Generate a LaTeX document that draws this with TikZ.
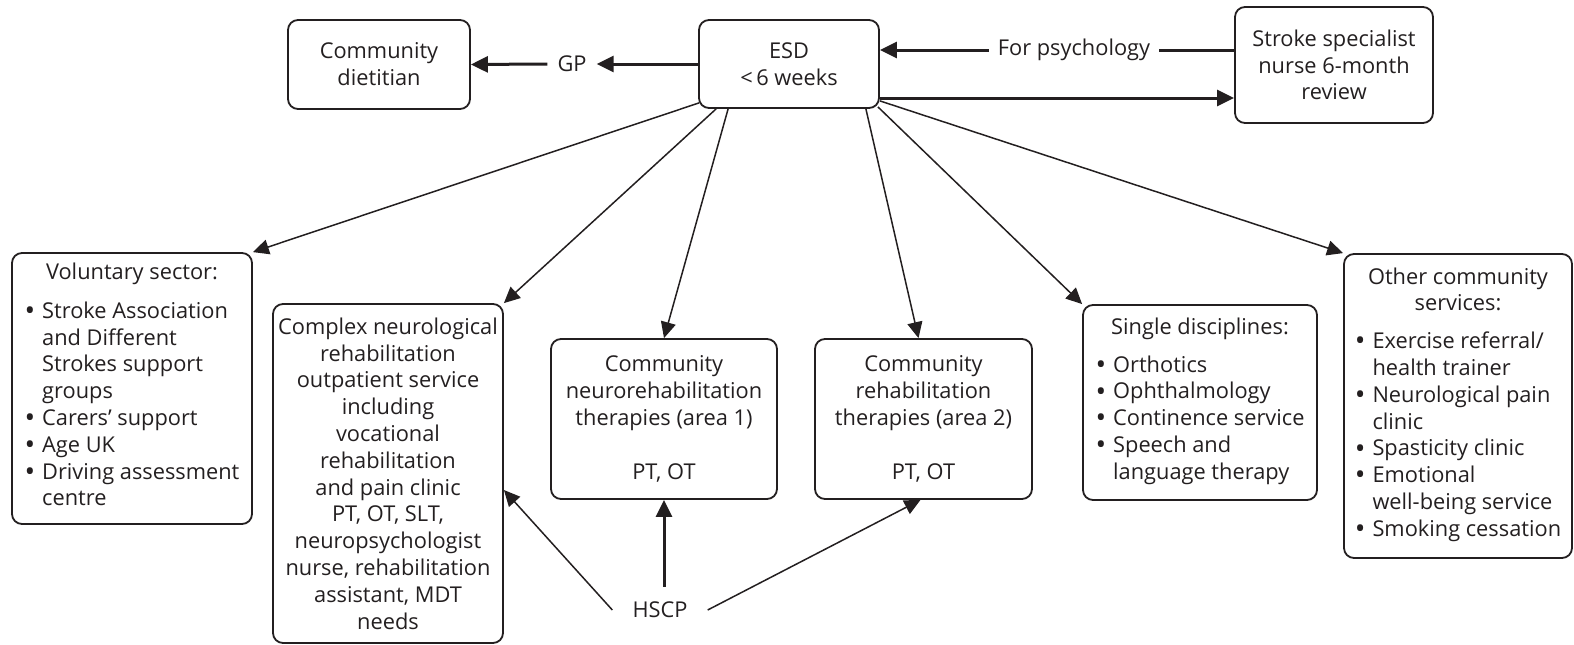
\documentclass[tikz,border=0pt]{standalone}
\usepackage{graphicx}
\usepackage{fontspec}
\setmainfont{Open Sans}
\usetikzlibrary{arrows.meta,calc}
\definecolor{ink}{RGB}{35,31,32}
% bullet list: bullet column plus text column, top-aligned
\newcommand{\blist}[1]{\begin{tabular}[t]{@{}l@{\hspace{7pt}}l@{}}#1\end{tabular}}
\newcommand{\bdot}{\raisebox{-0.1em}{\scalebox{1.3}{\textbullet}}}
\begin{document}
\begin{tikzpicture}[x=1pt,y=-1pt,
  every node/.style={font=\fontsize{21.8}{26.8}\selectfont, text=ink},
  box/.style={draw=ink, line width=1.8pt, rounded corners=10pt, align=center, inner sep=0pt},
  lbl/.style={inner xsep=10pt, inner ysep=4pt},
  linkthin/.style={draw=ink, line width=1.5pt, -{Triangle[length=16pt,width=15pt]}},
  linkthick/.style={draw=ink, line width=3pt, -{Triangle[length=17pt,width=16pt]}},
  plainthick/.style={draw=ink, line width=3pt},
  ]
\useasboundingbox (0,0) rectangle (1574,645);

% top row
\node[box, minimum width=182pt, minimum height=89pt] (diet) at (379,64.5) {Community\\dietitian};
\node[box, minimum width=180pt, minimum height=88pt] (esd) at (789,64) {ESD\\\textless\,6 weeks};
\node[box, minimum width=198pt, minimum height=116pt] (stroke) at (1334,65) {Stroke specialist\\nurse 6-month\\review};
\node[lbl] (gp) at (572,64) {GP};
\node[lbl, inner xsep=9pt] (psy) at (1074,50) {For psychology};

% lower row
\node[box, minimum width=240pt, minimum height=271pt] (vol) at (132,388.5)
  {Voluntary sector:\\[12pt]
   \blist{\bdot & Stroke Association\\ & and Different\\ & Strokes support\\ & groups\\
          \bdot & Carers’ support\\ \bdot & Age UK\\
          \bdot & Driving assessment\\ & centre}};
\node[box, minimum width=230pt, minimum height=339pt] (complex) at (388,473.5)
  {Complex neurological\\rehabilitation\\outpatient service\\including\\vocational\\rehabilitation\\and pain clinic\\PT, OT, SLT,\\neuropsychologist\\nurse, rehabilitation\\assistant, MDT\\needs};
\node[box, minimum width=226pt, minimum height=160pt] (area1) at (664,419)
  {Community\\neurorehabilitation\\therapies (area 1)\\[26.8pt]PT, OT};
\node[box, minimum width=217pt, minimum height=160pt] (area2) at (923.5,419)
  {Community\\rehabilitation\\therapies (area 2)\\[26.8pt]PT, OT};
\node[box, minimum width=234pt, minimum height=195pt] (single) at (1200,402.5)
  {Single disciplines:\\[11pt]
   \blist{\bdot & Orthotics\\ \bdot & Ophthalmology\\ \bdot & Continence service\\
          \bdot & Speech and\\ & language therapy}};
\node[box, minimum width=228pt, minimum height=304pt] (other) at (1458,406)
  {Other community\\services:\\[11pt]
   \blist{\bdot & Exercise referral/\\ & health trainer\\ \bdot & Neurological pain\\ & clinic\\
          \bdot & Spasticity clinic\\ \bdot & Emotional\\ & well-being service\\
          \bdot & Smoking cessation}};
\node[inner xsep=20pt, inner ysep=6pt] (hscp) at (660,610) {HSCP};

% connectors along the top
\draw[linkthick] (esd.west) -- (gp.east);
\draw[linkthick] (gp.west) -- (diet.east);
\draw[plainthick] (psy.east -| stroke.west) -- (psy.east);
\draw[linkthick] (psy.west) -- (psy.west -| esd.east);
\coordinate (lo) at ([yshift=-34pt]esd.east);
\draw[linkthick] (lo) -- (lo -| stroke.west);

% fan from ESD
\draw[linkthin] ([xshift=1pt,yshift=6pt]esd.south west) -- (vol.north east);
\draw[linkthin] ([xshift=18pt]esd.south west) -- (complex.north east);
\draw[linkthin] ([xshift=30pt]esd.south west) -- (area1.north);
\draw[linkthin] ([xshift=-14pt]esd.south east) -- ([xshift=-5pt]area2.north);
\draw[linkthin] ([xshift=-2pt,yshift=2pt]esd.south east) -- (single.north west);
\draw[linkthin] ([yshift=8pt]esd.south east) -- (other.north west);

% HSCP links
\draw[linkthin] (hscp.west) -- ([yshift=-16.5pt]complex.east);
\coordinate (hv) at ($(hscp.north -| area1.south)+(0,-9)$);
\draw[linkthick] (hv) -- (area1.south);
\draw[linkthin] (hscp.east) -- ([xshift=-3pt]area2.south);
\end{tikzpicture}
\end{document}
